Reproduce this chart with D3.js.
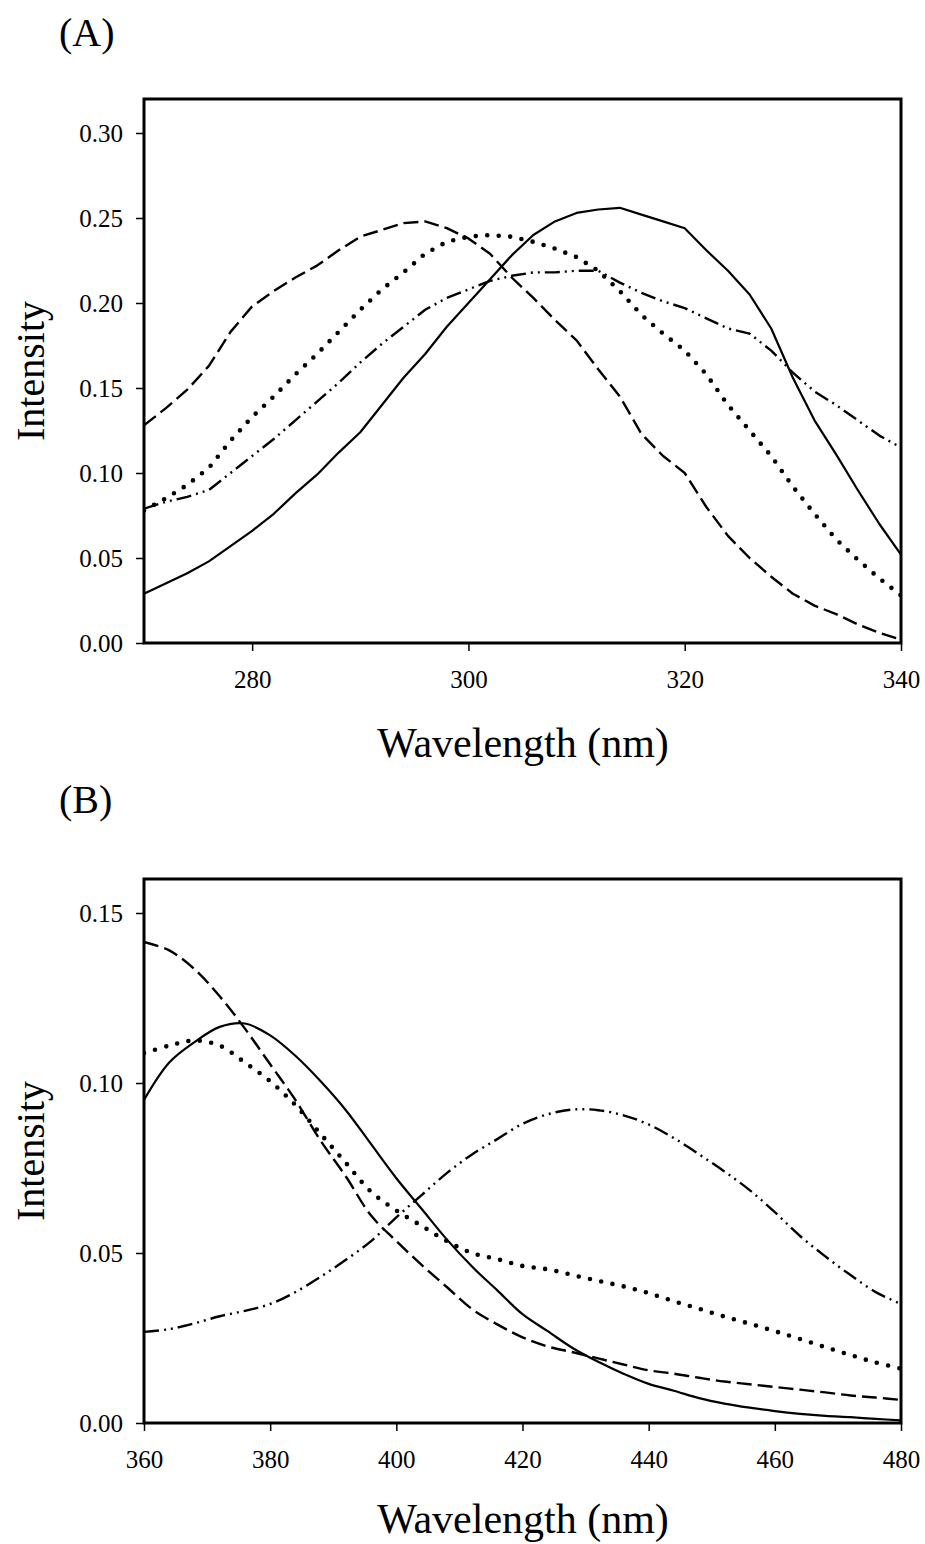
<!DOCTYPE html>
<html>
<head>
<meta charset="utf-8">
<script src="https://cdn.jsdelivr.net/npm/d3@7"></script>
<style>
  html, body { margin: 0; padding: 0; background: #fff; }
  svg { display: block; }
  text { font-family: "Liberation Serif", "Times New Roman", serif; fill: #000; }
</style>
</head>
<body>
<svg id="chart" width="925" height="1544"></svg>
<script>
// ---------- Panel A data ----------
const wavelengthA = [270,272,274,276,278,280,282,284,286,288,290,292,294,296,298,300,302,304,306,308,310,312,314,316,318,320,322,324,326,328,330,332,334,336,338,340];
const solidA   = [0.029,0.035,0.041,0.048,0.057,0.066,0.076,0.088,0.099,0.112,0.124,0.140,0.156,0.170,0.186,0.200,0.214,0.228,0.240,0.248,0.253,0.255,0.256,0.252,0.248,0.244,0.231,0.219,0.205,0.185,0.156,0.131,0.111,0.090,0.070,0.052];
const dashA    = [0.128,0.138,0.149,0.163,0.183,0.198,0.207,0.215,0.222,0.231,0.239,0.243,0.247,0.248,0.244,0.238,0.229,0.215,0.203,0.190,0.178,0.161,0.145,0.123,0.110,0.100,0.080,0.063,0.050,0.039,0.029,0.022,0.017,0.011,0.006,0.002];
const dotA     = [0.078,0.085,0.093,0.103,0.119,0.133,0.145,0.158,0.170,0.183,0.196,0.208,0.218,0.229,0.236,0.239,0.240,0.239,0.236,0.232,0.227,0.219,0.207,0.193,0.182,0.172,0.158,0.140,0.125,0.110,0.092,0.076,0.061,0.049,0.038,0.028];
const dashDotA = [0.079,0.083,0.086,0.090,0.100,0.110,0.120,0.131,0.142,0.153,0.165,0.176,0.186,0.196,0.203,0.208,0.213,0.216,0.218,0.218,0.219,0.219,0.212,0.206,0.201,0.197,0.191,0.185,0.182,0.172,0.159,0.148,0.140,0.131,0.122,0.115];
const xTicksA = [280,300,320,340];
const yTicksA = [0.00,0.05,0.10,0.15,0.20,0.25,0.30];

// ---------- Panel B data ----------
const wavelengthB = [360,364,368,372,376,380,384,388,392,396,400,404,408,412,416,420,424,428,432,436,440,444,448,452,456,460,464,468,472,476,480];
const solidB   = [0.095,0.106,0.112,0.1165,0.1175,0.114,0.108,0.1005,0.092,0.082,0.072,0.063,0.054,0.046,0.039,0.032,0.027,0.022,0.018,0.0145,0.0115,0.0095,0.0073,0.0057,0.0045,0.0035,0.0027,0.0021,0.0017,0.0012,0.0008];
const dashB    = [0.1415,0.139,0.1335,0.1255,0.116,0.1055,0.095,0.083,0.0725,0.061,0.0535,0.0465,0.040,0.0335,0.029,0.0252,0.0225,0.0208,0.019,0.0172,0.0155,0.0145,0.0133,0.0122,0.0114,0.0106,0.0098,0.0090,0.0081,0.0075,0.0068];
const dotB     = [0.1088,0.111,0.1125,0.111,0.106,0.1005,0.0935,0.085,0.0765,0.068,0.0625,0.058,0.0535,0.050,0.0482,0.0462,0.0452,0.0435,0.0418,0.0402,0.0382,0.0358,0.0336,0.0313,0.0292,0.0270,0.0247,0.0223,0.0200,0.0178,0.0160];
const dashDotB = [0.0268,0.0276,0.0293,0.0314,0.0330,0.0350,0.0385,0.0430,0.0480,0.0535,0.0605,0.0670,0.0735,0.0790,0.0835,0.0880,0.0908,0.0922,0.0920,0.0905,0.0878,0.0838,0.0790,0.0740,0.0685,0.0620,0.0550,0.0490,0.0435,0.0385,0.0350];
const xTicksB = [360,380,400,420,440,460,480];
const yTicksB = [0.00,0.05,0.10,0.15];

const panelLabels = ["(A)", "(B)"];
const xTitle = "Wavelength (nm)";
const yTitle = "Intensity";

const styles = {
  solid:   { dash: null, width: 2.2, cap: "butt" },
  dash:    { dash: "15,6", width: 2.4, cap: "butt" },
  dot:     { dash: "0,11.5", width: 4.6, cap: "round" },
  dashDot: { dash: "15,5,2,5,2,5", width: 2.4, cap: "butt" }
};

const svg = d3.select("#chart");

function drawPanel(cfg) {
  const x = d3.scaleLinear().domain(cfg.xDomain).range([144, 901]);
  const y = d3.scaleLinear().domain(cfg.yDomain).range([cfg.bottom, cfg.top]);
  const g = svg.append("g");

  const clipId = "clip" + cfg.id;
  svg.append("defs").append("clipPath").attr("id", clipId)
    .append("rect").attr("x", 144).attr("y", cfg.top)
    .attr("width", 757).attr("height", cfg.bottom - cfg.top);

  const line = d3.line()
    .x(d => x(d[0])).y(d => y(d[1]))
    .curve(cfg.curve);

  const lines = g.append("g").attr("clip-path", `url(#${clipId})`);
  cfg.series.forEach(s => {
    const st = styles[s.style];
    const pts = cfg.xs.map((w, i) => [w, s.values[i]]);
    lines.append("path")
      .attr("d", line(pts))
      .attr("fill", "none")
      .attr("stroke", "#000")
      .attr("stroke-width", st.width)
      .attr("stroke-linecap", st.cap)
      .attr("stroke-linejoin", "round")
      .attr("stroke-dasharray", st.dash);
  });

  // axes
  const yAxis = d3.axisLeft(y).tickValues(cfg.yTicks).tickFormat(d3.format(".2f"))
    .tickSize(8).tickPadding(13);
  const yG = g.append("g").attr("transform", "translate(144,0)").call(yAxis);
  const xAxis = d3.axisBottom(x).tickValues(cfg.xTicks).tickFormat(d3.format("d"))
    .tickSize(8).tickPadding(19);
  const xG = g.append("g").attr("transform", `translate(0,${cfg.bottom})`).call(xAxis);
  [yG, xG].forEach(a => {
    a.select(".domain").remove();
    a.selectAll(".tick line").attr("stroke", "#000").attr("stroke-width", 1.5);
    a.selectAll(".tick text").attr("font-size", 25)
      .attr("font-family", "'Liberation Serif', 'Times New Roman', serif").attr("fill", "#000");
  });

  // frame
  g.append("rect").attr("x", 144).attr("y", cfg.top)
    .attr("width", 757).attr("height", cfg.bottom - cfg.top)
    .attr("fill", "none").attr("stroke", "#000").attr("stroke-width", 3);

  // texts
  g.append("text").attr("x", 59).attr("y", cfg.labelY)
    .attr("font-size", 40).text(cfg.label);
  g.append("text").attr("x", 523).attr("y", cfg.bottom + cfg.titleOffset)
    .attr("text-anchor", "middle").attr("font-size", 42).text(xTitle);
  g.append("text")
    .attr("transform", `translate(44,${(cfg.top + cfg.bottom) / 2}) rotate(-90)`)
    .attr("text-anchor", "middle").attr("font-size", 40).text(yTitle);
}

drawPanel({
  id: "A", xDomain: [270, 340], yDomain: [0, 0.32], top: 99, bottom: 643,
  xs: wavelengthA, xTicks: xTicksA, yTicks: yTicksA, curve: d3.curveLinear,
  label: panelLabels[0], labelY: 46, titleOffset: 114,
  series: [
    { values: solidA, style: "solid" },
    { values: dashA, style: "dash" },
    { values: dotA, style: "dot" },
    { values: dashDotA, style: "dashDot" }
  ]
});

drawPanel({
  id: "B", xDomain: [360, 480], yDomain: [0, 0.16], top: 879, bottom: 1423,
  xs: wavelengthB, xTicks: xTicksB, yTicks: yTicksB, curve: d3.curveCatmullRom,
  label: panelLabels[1], labelY: 813, titleOffset: 110,
  series: [
    { values: solidB, style: "solid" },
    { values: dashB, style: "dash" },
    { values: dotB, style: "dot" },
    { values: dashDotB, style: "dashDot" }
  ]
});
</script>
</body>
</html>
